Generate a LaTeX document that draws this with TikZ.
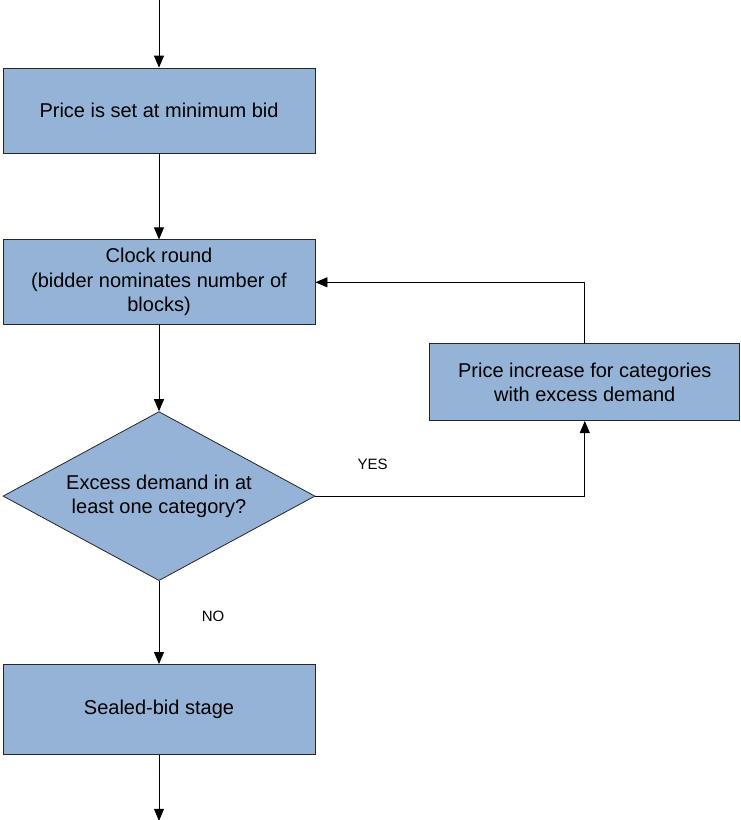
\documentclass[tikz,border=0pt]{standalone}
\usepackage{fontspec}
\setmainfont{Liberation Sans}
\usepackage{tikz}
\usetikzlibrary{positioning}
\usetikzlibrary{shapes.geometric}
\usetikzlibrary{arrows.meta}
\definecolor{boxblue}{HTML}{95B3D7}

\begin{document}
\begin{tikzpicture}[x=1pt, y=-1pt,
						node distance = 86pt,
						every node/.style={font=\fontsize{20}{24.5}\selectfont},
						block/.style={draw=black!85, fill=boxblue, line width=0.8pt,
							minimum width=312pt, minimum height=85pt,
							inner sep=0pt, align=center},
						decision/.style={diamond, aspect=1.846, draw=black!85,
							fill=boxblue, line width=0.8pt, minimum width=312pt,
							minimum height=169pt, inner sep=0pt, align=center},
						flow/.style={-{Triangle[length=12pt,width=10pt]},
							line width=0.8pt},
						answer/.style={font=\fontsize{15}{18}\selectfont}]
		\useasboundingbox (0,0) rectangle (741,820);
		\node [block] (minbid) at (159,110.5) {Price is set at minimum bid};
		\node [block, below=of minbid] (clock)
			{Clock round\\(bidder nominates number of\\blocks)};
		\node [decision, below=of clock] (excess)
			{Excess demand in at\\least one category?};
		\node [block, minimum height=90pt, below=83pt of excess] (sealed)
			{Sealed-bid stage};
		\node [block, minimum width=310pt, minimum height=77pt,
				below right=18pt and 114pt of clock]
			(increase) {Price increase for categories\\with excess demand};
		\coordinate [above=68pt of minbid] (start);
		\coordinate [below=66pt of sealed] (finish);

		\path [flow]
			(start) edge [] (minbid)
			(minbid) edge [] (clock)
			(clock) edge [] (excess)
			(excess) edge [] node [answer, pos=0.43, xshift=54pt] {NO} (sealed)
			(sealed) edge [] (finish);
		\draw [flow] (excess.east) -| node [answer, pos=0.106, yshift=32pt] {YES}
			(increase.south);
		\draw [flow] (increase.north) |- (clock.east);
	\end{tikzpicture}
\end{document}
